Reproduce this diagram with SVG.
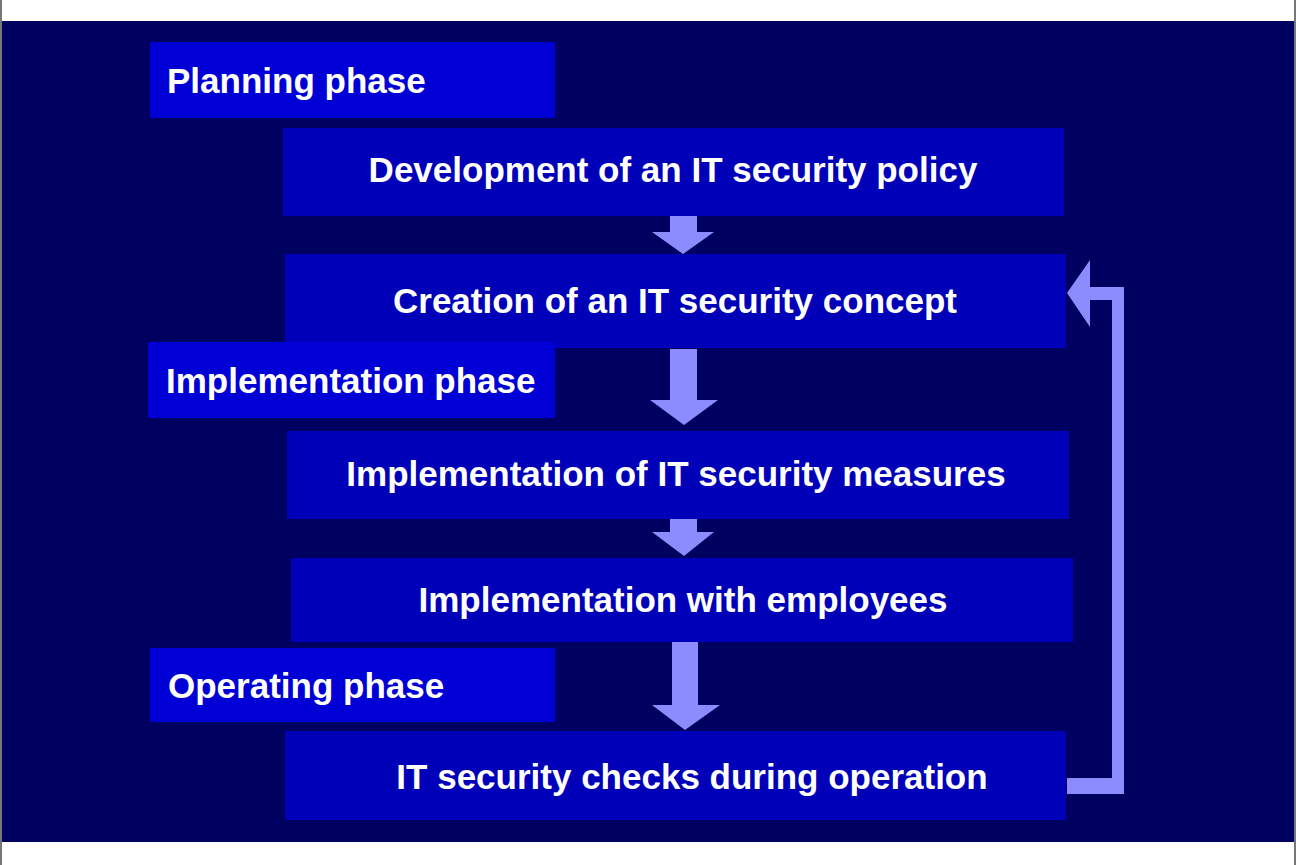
<svg xmlns="http://www.w3.org/2000/svg" width="1296" height="865" viewBox="0 0 1296 865">
<style>
.ph{fill:#0000d6}
.st{fill:#0000b8}
.t{font-family:"Liberation Sans",Arial,sans-serif;font-weight:bold;font-size:35px;fill:#fff}
.c{text-anchor:middle}
.ar{fill:#8c8cff}
</style>
<rect width="1296" height="865" fill="#fff"/>
<rect x="0" y="21" width="1296" height="821" fill="#000060"/>
<rect x="0" y="0" width="2" height="865" fill="#777"/>
<rect x="1294" y="0" width="2" height="865" fill="#777"/>
<g id="connectors" class="ar">
<polygon points="670,216 697,216 697,232 714,232 683,254 652,232 670,232"/>
<polygon points="670,349 697,349 697,400 718,400 684,425 650,400 670,400"/>
<polygon points="670,519 697,519 697,532 714,532 684,556 652,532 670,532"/>
<polygon points="672,642 698,642 698,705 720,705 685,730 652,705 672,705"/>
<polygon points="1067,778 1112,778 1112,300 1090,300 1090,327 1067,293 1090,260 1090,287 1124,287 1124,794 1067,794"/>
</g>
<g id="planning"><rect class="ph" x="150" y="42" width="405" height="76"/><text class="t" x="167" y="93">Planning phase</text></g>
<g id="dev"><rect class="st" x="283" y="128" width="781" height="88"/><text class="t c" x="673" y="182">Development of an IT security policy</text></g>
<g id="creation"><rect class="st" x="285" y="254" width="781" height="94"/><text class="t c" x="675" y="313">Creation of an IT security concept</text></g>
<g id="implphase"><rect class="ph" x="148" y="342" width="407" height="76"/><text class="t" x="166" y="393">Implementation phase</text></g>
<g id="measures"><rect class="st" x="287" y="431" width="782" height="88"/><text class="t c" x="676" y="486">Implementation of IT security measures</text></g>
<g id="employees"><rect class="st" x="291" y="558" width="782" height="84"/><text class="t c" x="683" y="612">Implementation with employees</text></g>
<g id="opphase"><rect class="ph" x="150" y="648" width="405" height="74"/><text class="t" x="168" y="698">Operating phase</text></g>
<g id="checks"><rect class="st" x="285" y="731" width="781" height="89"/><text class="t c" x="692" y="789">IT security checks during operation</text></g>
</svg>
